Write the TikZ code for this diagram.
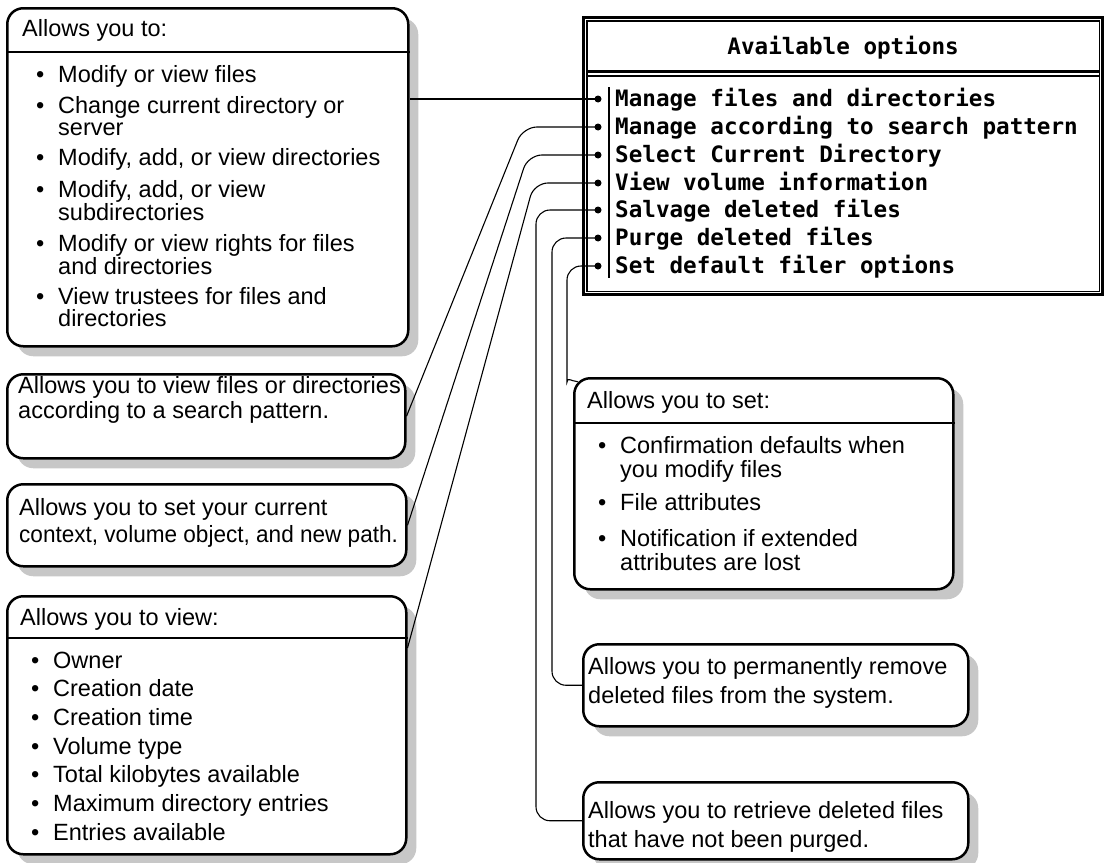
\documentclass[tikz,border=0pt]{standalone}
\usepackage{fontspec}
\usepackage{graphicx}
\setmainfont{Liberation Sans}
\newfontfamily\menufont{DejaVu Sans Mono}
\usetikzlibrary{shadows,calc}

% bullet with fixed hanging indent, and the matching indent for wrapped lines
\newcommand\bul{\makebox[22pt][l]{\textbullet}}
\newcommand\hng{\hskip22pt\relax}
\newcommand\tline[1]{\hbox{#1}}

\tikzset{
  panel/.style={draw, line width=2.5pt, rounded corners=16pt, fill=white,
    inner sep=0, anchor=north west,
    drop shadow={shadow xshift=10pt, shadow yshift=-10pt, fill=black!22, opacity=1}},
  body/.style={anchor=base west, inner sep=0, font=\fontsize{23.5}{24}\selectfont},
  rule/.style={line width=2pt},
  link/.style={line width=1.1pt, rounded corners=14pt},
  dot/.style={circle, fill=black, inner sep=0, minimum size=7pt},
  menutext/.style={anchor=base west, inner sep=0,
    font=\menufont\bfseries\fontsize{22.6}{23}\selectfont},
}

\begin{document}
\begin{tikzpicture}[x=1pt, y=-1pt]
\useasboundingbox (0,0) rectangle (1107,862);

% ---------- menu window ----------
\node[draw, line width=3.2pt, minimum width=519pt, minimum height=277pt,
      anchor=north west, inner sep=0] (menu) at (582,16) {};
\draw[line width=1.3pt] ($(menu.north west)+(5,5)$) rectangle ($(menu.south east)+(-5,-5)$);
\draw[line width=3pt]   ($(menu.north west)+(5,55)$) -- ($(menu.north east)+(-5,55)$);
\draw[line width=1.3pt] ($(menu.north west)+(5,60)$) -- ($(menu.north east)+(-5,60)$);
\node[menutext, anchor=base] (mhead) at ($(menu.north)+(0,38)$) {Available options};
\draw[line width=2pt] (609,87) -- (609,278);

\foreach \i/\y/\t in {1/99/Manage files and directories,
                      2/127/Manage according to search pattern,
                      3/155/Select Current Directory,
                      4/183/View volume information,
                      5/210/Salvage deleted files,
                      6/238/Purge deleted files,
                      7/266/Set default filer options} {
  \node[dot] (m\i) at (598,\y) {};
  \node[menutext] (t\i) at (615,\y+7) {\t};
}

% ---------- left callouts ----------
\node[panel, minimum width=401pt, minimum height=338pt] (b1) at (6,7) {};
\draw[rule] (b1.west |- 0,52) -- (b1.east |- 0,52);
\node[body] (b1h) at (22,36) {Allows you to:};
\node[body] (b1t) at (36,82) {\vtop{\baselineskip=21.5pt
  \tline{\bul Modify or view files}\vskip9pt
  \tline{\bul Change current directory or}
  \tline{\hng server}\vskip9pt
  \tline{\bul Modify, add, or view directories}\vskip9pt
  \tline{\bul Modify, add, or view}
  \tline{\hng subdirectories}\vskip9pt
  \tline{\bul Modify or view rights for files}
  \tline{\hng and directories}\vskip9pt
  \tline{\bul View trustees for files and}
  \tline{\hng directories}}};

\node[panel, minimum width=398pt, minimum height=84pt] (b2) at (6,373) {};
\node[body] (b2t) at (18,393) {\vtop{\baselineskip=25pt
  \tline{Allows you to view files or directories}
  \tline{according to a search pattern.}}};

\node[panel, minimum width=399pt, minimum height=82pt] (b3) at (6,483) {};
\node[body] (b3t) at (19,515) {\vtop{\baselineskip=27pt
  \tline{Allows you to set your current}
  \tline{\scalebox{0.96}[1]{context, volume object, and new path.}}}};

\node[panel, minimum width=399pt, minimum height=258pt] (b4) at (6,595) {};
\draw[rule] (b4.west |- 0,638) -- (b4.east |- 0,638);
\node[body] (b4h) at (20,625) {Allows you to view:};
\node[body] (b4t) at (31,668) {\vtop{\baselineskip=28.7pt
  \tline{\bul Owner}
  \tline{\bul Creation date}
  \tline{\bul Creation time}
  \tline{\bul Volume type}
  \tline{\bul Total kilobytes available}
  \tline{\bul Maximum directory entries}
  \tline{\bul Entries available}}};

% ---------- right callouts ----------
\node[panel, minimum width=379pt, minimum height=211pt] (b5) at (573,377) {};
\draw[rule] (b5.west |- 0,423) -- (b5.east |- 0,423);
\node[body] (b5h) at (587,408) {Allows you to set:};
\node[body] (b5t) at (598,453) {\vtop{\baselineskip=24pt
  \tline{\bul Confirmation defaults when}
  \tline{\hng you modify files}\vskip9pt
  \tline{\bul File attributes}\vskip12pt
  \tline{\bul Notification if extended}
  \tline{\hng attributes are lost}}};

\node[panel, minimum width=385pt, minimum height=82pt] (b6) at (582,643) {};
\node[body] (b6t) at (588,674) {\vtop{\baselineskip=29pt
  \tline{Allows you to permanently remove}
  \tline{deleted files from the system.}}};

\node[panel, minimum width=385pt, minimum height=77pt] (b7) at (582,781) {};
\node[body] (b7t) at (588,818) {\vtop{\baselineskip=29pt
  \tline{Allows you to retrieve deleted files}
  \tline{that have not been purged.}}};

% ---------- leader lines ----------
\coordinate (e4) at ($(b4.north east)+(0,53)$);
\coordinate (e5) at ($(b5.north west)+(4.7,4.7)$);

\draw[link] (m1.center) -- (b1.east |- m1);
\draw[link] (m2.center) -- (523,127) -- (b2.east);
\draw[link] (m3.center) -- (528,155) -- (b3.east);
\draw[link] (m4.center) -- (534,183) -- (e4);
\draw[link] (m5.center) -- (536,210) |- (b7.west);
\draw[link] (m6.center) -- (552,238) |- (b6.west);
\draw[link] (m7.center) -- (567,266) -- (567,368)
  .. controls (567,377) and (571,381) .. (e5);
\end{tikzpicture}
\end{document}
